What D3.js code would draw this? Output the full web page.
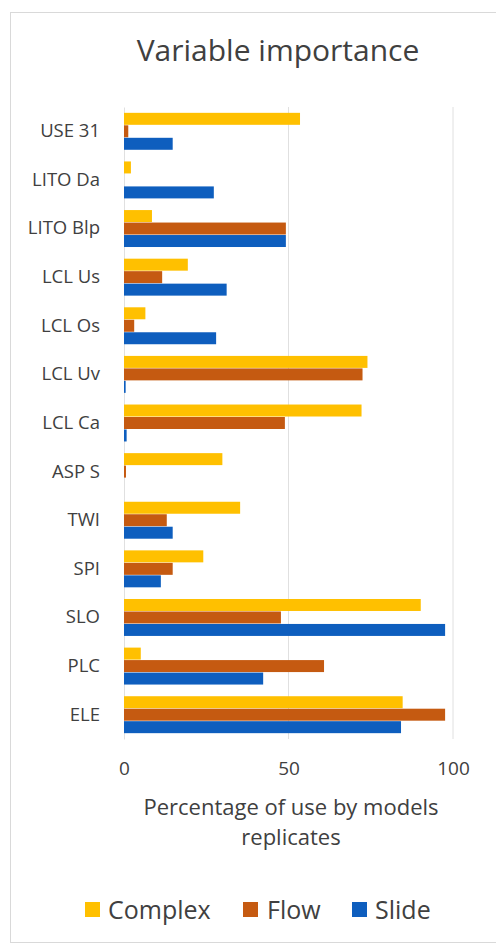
<!DOCTYPE html>
<html>
<head>
<meta charset="utf-8">
<script src="https://cdn.jsdelivr.net/npm/d3@7/dist/d3.min.js"></script>
<style>
  html, body { margin: 0; padding: 0; background: #ffffff; }
  svg { display: block; font-family: "Open Sans", "Noto Sans", sans-serif; }
</style>
</head>
<body>
<svg id="chart" width="496" height="945"></svg>
<script>
// Predictor variables, listed top to bottom
const categories = ["USE 31", "LITO Da", "LITO Blp", "LCL Us", "LCL Os", "LCL Uv", "LCL Ca",
                    "ASP S", "TWI", "SPI", "SLO", "PLC", "ELE"];
const seriesNames = ["Complex", "Flow", "Slide"];
// Percentage of use by model replicates, one value per category
const complexValues = [53.5, 2.1, 8.5, 19.4, 6.5, 74.0, 72.2, 29.9, 35.3, 24.1, 90.2, 5.1, 84.7];
const flowValues    = [1.3, 0, 49.2, 11.6, 3.1, 72.5, 48.9, 0.6, 13.0, 14.8, 47.7, 60.8, 97.6];
const slideValues   = [14.8, 27.3, 49.2, 31.2, 28.0, 0.5, 0.8, 0, 14.8, 11.2, 97.6, 42.3, 84.2];
const xTicks = [0, 50, 100];

const colors = { Complex: "#FFC000", Flow: "#C55A11", Slide: "#0E5EBE" };
const valuesBySeries = { Complex: complexValues, Flow: flowValues, Slide: slideValues };
const textColor = "#404040";

const svg = d3.select("#chart");

// chart frame
svg.append("rect")
  .attr("x", 10.5).attr("y", 12.5)
  .attr("width", 496).attr("height", 930)
  .attr("fill", "#ffffff")
  .attr("stroke", "#d9d9d9");

const x = d3.scaleLinear().domain([0, 100]).range([124, 453]);
const y = d3.scaleBand().domain(categories).range([107, 739])
  .paddingInner(0.24).paddingOuter(0.12);
const ySub = d3.scaleBand().domain(seriesNames).range([0, y.bandwidth()]).paddingInner(0.04);

// title
svg.append("text")
  .attr("x", 278).attr("y", 61)
  .attr("text-anchor", "middle")
  .attr("font-size", 30)
  .attr("fill", textColor)
  .text("Variable importance");

// vertical gridlines
svg.append("g").selectAll("line")
  .data(xTicks.filter(d => d > 0))
  .join("line")
  .attr("x1", d => x(d)).attr("x2", d => x(d))
  .attr("y1", 107).attr("y2", 739)
  .attr("stroke", "#e0e0e0").attr("stroke-width", 1);

// category axis
const yAxis = svg.append("g")
  .attr("transform", `translate(${x(0)},0)`)
  .call(d3.axisLeft(y).tickSize(0).tickPadding(24));
yAxis.select(".domain").attr("stroke", "#e0e0e0");
yAxis.selectAll("text")
  .attr("font-size", 18.5)
  .attr("font-family", "\"Open Sans\", sans-serif")
  .attr("fill", textColor);

// value axis
const xAxis = svg.append("g")
  .attr("transform", "translate(0,739)")
  .call(d3.axisBottom(x).tickValues(xTicks).tickSize(0).tickPadding(0));
xAxis.select(".domain").remove();
xAxis.selectAll("text")
  .attr("dy", null)
  .attr("y", 36)
  .attr("font-size", 19)
  .attr("font-family", "\"Open Sans\", sans-serif")
  .attr("fill", textColor);

// bars
const groups = svg.append("g").selectAll("g")
  .data(categories)
  .join("g")
  .attr("transform", d => `translate(0,${y(d)})`);

groups.selectAll("rect")
  .data((c, i) => seriesNames.map(s => ({ series: s, value: valuesBySeries[s][i] })))
  .join("rect")
  .attr("x", x(0))
  .attr("y", d => ySub(d.series))
  .attr("width", d => x(d.value) - x(0))
  .attr("height", ySub.bandwidth())
  .attr("fill", d => colors[d.series]);

// axis title
const axisTitle = svg.append("text")
  .attr("x", 291).attr("y", 815)
  .attr("text-anchor", "middle")
  .attr("font-size", 22)
  .attr("fill", textColor);
axisTitle.append("tspan").attr("x", 291).text("Percentage of use by models");
axisTitle.append("tspan").attr("x", 291).attr("dy", 30).text("replicates");

// legend
const legendItems = [
  { name: "Complex", sx: 85, tx: 108 },
  { name: "Flow", sx: 243, tx: 267 },
  { name: "Slide", sx: 352, tx: 375 }
];
const legend = svg.append("g");
legend.selectAll("rect")
  .data(legendItems)
  .join("rect")
  .attr("x", d => d.sx).attr("y", 902)
  .attr("width", 15).attr("height", 15)
  .attr("fill", d => colors[d.name]);
legend.selectAll("text")
  .data(legendItems)
  .join("text")
  .attr("x", d => d.tx).attr("y", 919)
  .attr("font-size", 25)
  .attr("fill", textColor)
  .text(d => d.name);
</script>
</body>
</html>
